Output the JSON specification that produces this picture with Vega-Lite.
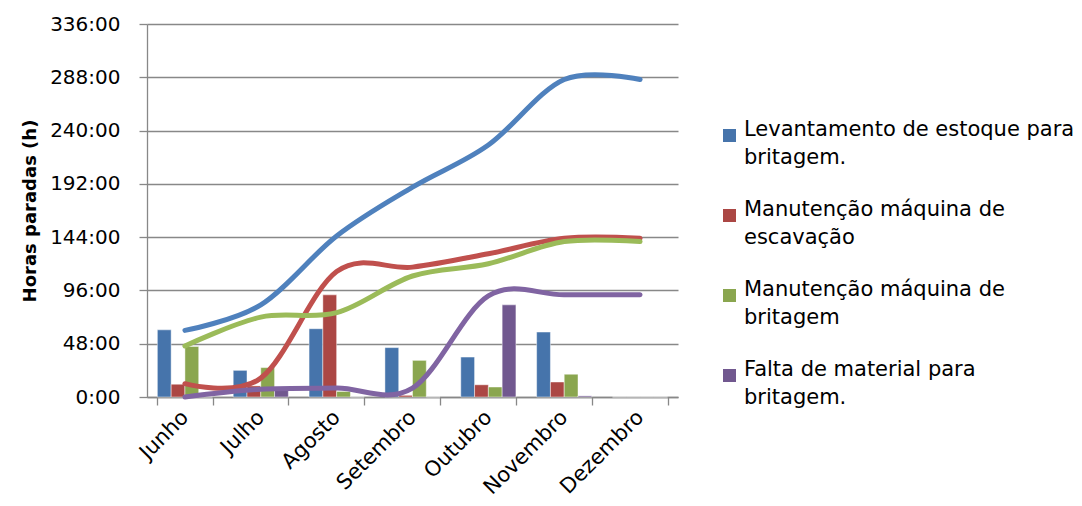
{
  "$schema": "https://vega.github.io/schema/vega-lite/v6.json",
  "width": 531,
  "height": 373,
  "autosize": {"type": "none"},
  "padding": {"left": 147, "top": 24, "right": 404, "bottom": 109},
  "background": "white",
  "config": {
    "view": {"stroke": null},
    "font": "DejaVu Sans",
    "style": {"guide-label": {"lineHeight": 28}}
  },
  "data": {
    "values": [
      {"mes": "Junho", "serie": "Levantamento de estoque para britagem.", "horas": 60.5, "acumulado": 60},
      {"mes": "Julho", "serie": "Levantamento de estoque para britagem.", "horas": 24, "acumulado": 83},
      {"mes": "Agosto", "serie": "Levantamento de estoque para britagem.", "horas": 61.5, "acumulado": 145},
      {"mes": "Setembro", "serie": "Levantamento de estoque para britagem.", "horas": 44.5, "acumulado": 189},
      {"mes": "Outubro", "serie": "Levantamento de estoque para britagem.", "horas": 36, "acumulado": 227},
      {"mes": "Novembro", "serie": "Levantamento de estoque para britagem.", "horas": 58.5, "acumulado": 286},
      {"mes": "Dezembro", "serie": "Levantamento de estoque para britagem.", "horas": 0, "acumulado": 286},
      {"mes": "Junho", "serie": "Manutenção máquina de escavação", "horas": 11.5, "acumulado": 12},
      {"mes": "Julho", "serie": "Manutenção máquina de escavação", "horas": 10, "acumulado": 17},
      {"mes": "Agosto", "serie": "Manutenção máquina de escavação", "horas": 92, "acumulado": 113},
      {"mes": "Setembro", "serie": "Manutenção máquina de escavação", "horas": 1.5, "acumulado": 117},
      {"mes": "Outubro", "serie": "Manutenção máquina de escavação", "horas": 11, "acumulado": 129},
      {"mes": "Novembro", "serie": "Manutenção máquina de escavação", "horas": 13.5, "acumulado": 143},
      {"mes": "Dezembro", "serie": "Manutenção máquina de escavação", "horas": 0, "acumulado": 143},
      {"mes": "Junho", "serie": "Manutenção máquina de britagem", "horas": 45.5, "acumulado": 46},
      {"mes": "Julho", "serie": "Manutenção máquina de britagem", "horas": 26.5, "acumulado": 72},
      {"mes": "Agosto", "serie": "Manutenção máquina de britagem", "horas": 5, "acumulado": 76},
      {"mes": "Setembro", "serie": "Manutenção máquina de britagem", "horas": 33, "acumulado": 109},
      {"mes": "Outubro", "serie": "Manutenção máquina de britagem", "horas": 9, "acumulado": 120},
      {"mes": "Novembro", "serie": "Manutenção máquina de britagem", "horas": 20.5, "acumulado": 140},
      {"mes": "Dezembro", "serie": "Manutenção máquina de britagem", "horas": 0, "acumulado": 140},
      {"mes": "Junho", "serie": "Falta de material para britagem.", "horas": 0, "acumulado": 0},
      {"mes": "Julho", "serie": "Falta de material para britagem.", "horas": 6, "acumulado": 7},
      {"mes": "Agosto", "serie": "Falta de material para britagem.", "horas": 0, "acumulado": 8},
      {"mes": "Setembro", "serie": "Falta de material para britagem.", "horas": 0, "acumulado": 8},
      {"mes": "Outubro", "serie": "Falta de material para britagem.", "horas": 83, "acumulado": 91},
      {"mes": "Novembro", "serie": "Falta de material para britagem.", "horas": 1, "acumulado": 92},
      {"mes": "Dezembro", "serie": "Falta de material para britagem.", "horas": 0, "acumulado": 92}
    ]
  },
  "layer": [
    {
      "mark": {"type": "bar", "stroke": "#ffffff", "strokeOpacity": 0.45, "strokeWidth": 1},
      "encoding": {
        "x": {
          "field": "mes", "type": "nominal",
          "sort": ["Junho", "Julho", "Agosto", "Setembro", "Outubro", "Novembro", "Dezembro"],
          "scale": {"paddingInner": 0.273, "paddingOuter": 0.1365},
          "axis": {
            "title": null, "labelAngle": -45, "labelAlign": "right", "labelBaseline": "middle",
            "labelFontSize": 21, "labelColor": "#000000", "labelPadding": 9,
            "tickBand": "extent", "tickSize": 8, "tickColor": "#888888", "tickWidth": 1.3,
            "domainColor": "#888888", "domainWidth": 1.3, "grid": false,
            "labelOverlap": false, "labelBound": false
          }
        },
        "xOffset": {
          "field": "serie", "type": "nominal",
          "sort": ["Levantamento de estoque para britagem.", "Manutenção máquina de escavação", "Manutenção máquina de britagem", "Falta de material para britagem."],
          "scale": {"paddingInner": 0, "paddingOuter": 0}
        },
        "y": {
          "field": "horas", "type": "quantitative", "title": "Horas paradas (h)",
          "scale": {"domain": [0, 336], "nice": false, "zero": true},
          "axis": {
            "values": [0, 48, 96, 144, 192, 240, 288, 336],
            "labelExpr": "datum.value + ':00'",
            "labelFontSize": 20, "labelColor": "#000000", "labelPadding": 19,
            "tickSize": 8, "tickColor": "#888888", "tickWidth": 1.3,
            "domainColor": "#888888", "domainWidth": 1.3,
            "grid": true, "gridColor": "#888888", "gridWidth": 1.3,
            "titleFont": "DejaVu Sans", "titleFontWeight": "bold", "titleFontSize": 18,
            "titleColor": "#000000", "titlePadding": 10
          }
        },
        "color": {
          "field": "serie", "type": "nominal",
          "scale": {
            "domain": ["Levantamento de estoque para britagem.", "Manutenção máquina de escavação", "Manutenção máquina de britagem", "Falta de material para britagem."],
            "range": ["#4674AB", "#AB4744", "#8AA64F", "#71588F"]
          },
          "legend": {
            "title": null, "orient": "none", "legendX": 572, "legendY": 101,
            "symbolType": "square", "symbolSize": 169, "symbolStrokeWidth": 0, "symbolOpacity": 1,
            "labelFontSize": 21, "labelColor": "#000000", "labelOffset": 4, "labelLimit": 500,
            "labelBaseline": "alphabetic", "rowPadding": 30, "padding": 0,
            "labelExpr": "datum.label == 'Levantamento de estoque para britagem.' ? ['Levantamento de estoque para', 'britagem.'] : datum.label == 'Manutenção máquina de escavação' ? ['Manutenção máquina de', 'escavação'] : datum.label == 'Manutenção máquina de britagem' ? ['Manutenção máquina de', 'britagem'] : ['Falta de material para', 'britagem.']"
          }
        }
      }
    },
    {
      "mark": {"type": "line", "interpolate": "cardinal", "strokeWidth": 5, "strokeCap": "round", "strokeJoin": "round"},
      "encoding": {
        "x": {"field": "mes", "type": "nominal", "sort": ["Junho", "Julho", "Agosto", "Setembro", "Outubro", "Novembro", "Dezembro"]},
        "y": {"field": "acumulado", "type": "quantitative", "title": "Horas paradas (h)"},
        "color": {
          "field": "serie", "type": "nominal",
          "scale": {
            "domain": ["Levantamento de estoque para britagem.", "Manutenção máquina de escavação", "Manutenção máquina de britagem", "Falta de material para britagem."],
            "range": ["#4F81BD", "#C0504D", "#9BBB59", "#8064A2"]
          },
          "legend": null
        }
      }
    }
  ],
  "resolve": {"scale": {"color": "independent"}}
}
